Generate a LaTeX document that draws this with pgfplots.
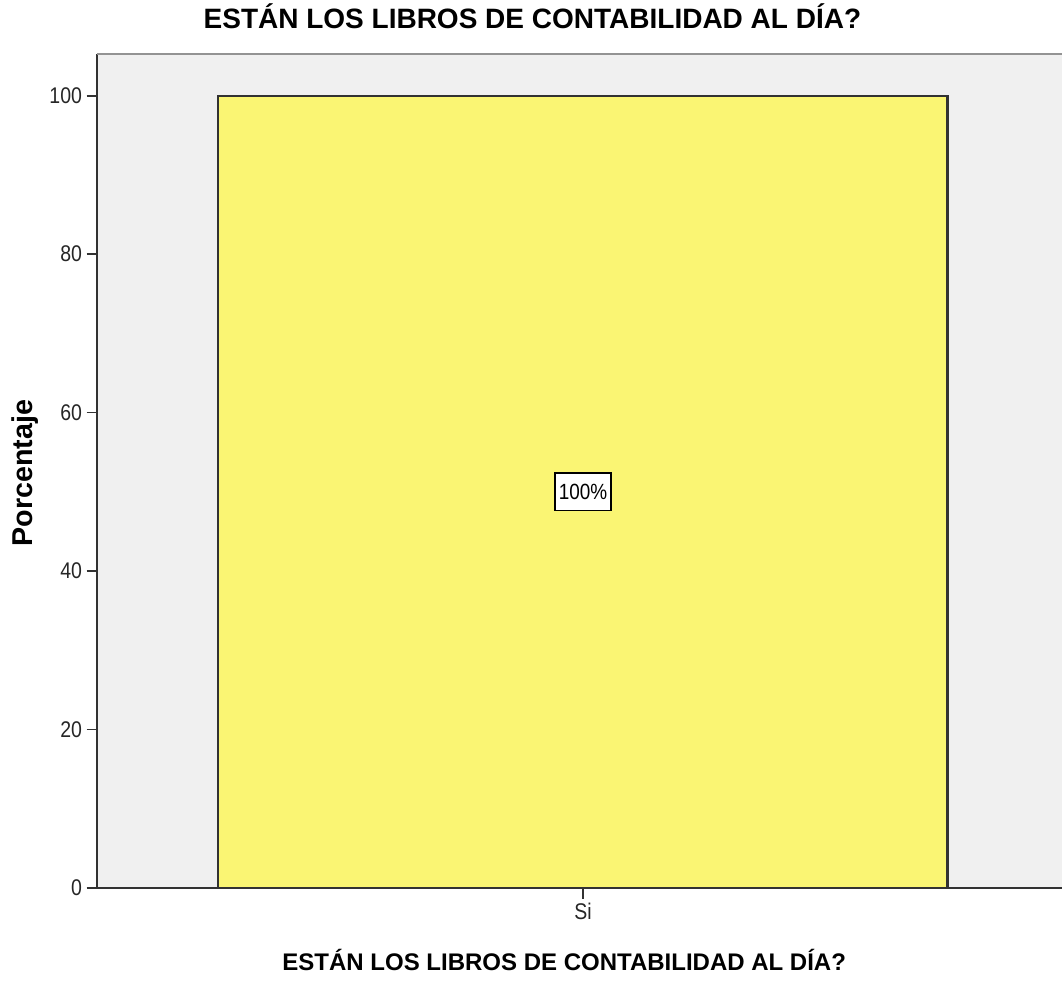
\documentclass[border=0pt]{standalone}
\usepackage{fontspec}
\setmainfont{Liberation Sans}
\newfontfamily\narrowfont[FakeStretch=0.86]{Liberation Sans}
\usepackage{pgfplots}
\pgfplotsset{compat=1.18}
\definecolor{barYellow}{RGB}{250,245,115}
\definecolor{plotBg}{RGB}{240,240,240}
\definecolor{lineDark}{RGB}{50,50,50}

\begin{document}
\begin{tikzpicture}
\begin{axis}[
  scale only axis,
  width=723.5pt, height=625.5pt,
  ybar, bar width=1,
  xmin=-0.666, xmax=0.657,
  ymin=0, ymax=105.26,
  xtick={0}, xticklabels={Si},
  ytick={0,20,40,60,80,100},
  axis x line*=bottom, axis y line*=left,
  axis line style={-, line width=1.5pt, draw=lineDark},
  tick align=outside,
  major tick length=8pt,
  tick style={line width=1.3pt, draw=lineDark},
  /pgf/number format/assume math mode=true,
  tick label style={font=\narrowfont\fontsize{17}{19}\selectfont, text=black!85},
  axis background/.style={fill=plotBg},
  title={ESTÁN LOS LIBROS DE CONTABILIDAD AL DÍA?},
  title style={at={(rel axis cs:0.451,1.0204)}, anchor=base,
    font=\bfseries\fontsize{21}{25}\selectfont},
  xlabel={ESTÁN LOS LIBROS DE CONTABILIDAD AL DÍA?},
  xlabel style={at={(rel axis cs:0.484,-0.0995)}, anchor=base,
    font=\bfseries\fontsize{18}{21}\selectfont},
  ylabel={Porcentaje},
  ylabel style={at={(rel axis cs:-0.0674,0.4976)}, anchor=base,
    font=\bfseries\fontsize{21.5}{25}\selectfont},
  nodes near coords={\pgfmathprintnumber{\pgfplotspointmeta}\%},
  every node near coord/.append style={anchor=center,
    shift={(axis direction cs:0,-50)}, fill=white, draw=black,
    line width=1.3pt, inner xsep=3pt, minimum height=28pt,
    font=\narrowfont\fontsize{16.5}{18}\selectfont},
  clip=false,
]
\addplot[fill=barYellow, draw=lineDark, line width=1.6pt]
  coordinates {(0,100)};
\coordinate (sw) at (rel axis cs:0,0);
\draw[line width=2.2pt, draw=gray!85] (rel axis cs:0,1) -- (rel axis cs:1,1);
\end{axis}
\pgfresetboundingbox
\path[use as bounding box] (sw) ++(-73pt,-70.5pt) rectangle ++(796.5pt,736.5pt);
\end{tikzpicture}
\end{document}
